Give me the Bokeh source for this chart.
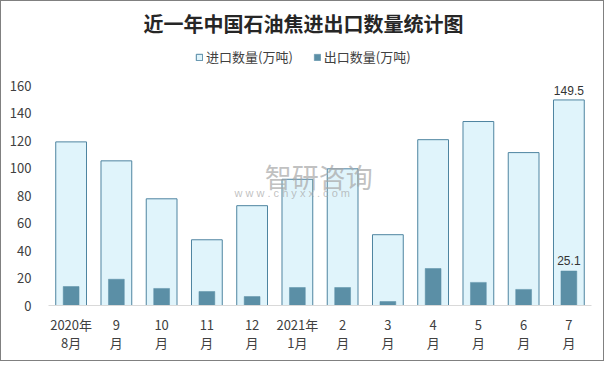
from bokeh.plotting import figure
from bokeh.models import FactorRange, Range1d, Legend, LegendItem, Label, FixedTicker
from bokeh.embed import file_html
from bokeh.resources import INLINE

categories = ["2020年\n8月", "9\n月", "10\n月", "11\n月", "12\n月", "2021年\n1月",
              "2\n月", "3\n月", "4\n月", "5\n月", "6\n月", "7\n月"]
imports = [119.0, 105.2, 77.6, 47.8, 72.6, 91.8, 99.4, 51.5, 120.6, 133.8, 111.2, 149.5]
exports = [13.8, 19.1, 12.4, 10.2, 6.5, 13.1, 13.1, 2.9, 26.9, 16.8, 11.7, 25.1]
y_ticks = [0, 20, 40, 60, 80, 100, 120, 140, 160]
title_text = "近一年中国石油焦进出口数量统计图"
import_name = "进口数量(万吨)"
export_name = "出口数量(万吨)"

FONT = "Noto Sans CJK SC"

# frame spans the full height above the x axis; title and legend live in its top part
# (160 units occupy 220 px, the frame is 304 px tall)
y_top = 160 * 304 / 220

p = figure(width=604, height=361, x_range=FactorRange(*categories, range_padding=0),
           y_range=Range1d(0, y_top), output_backend="svg", toolbar_location=None,
           min_border_left=47, min_border_right=14, min_border_top=0, min_border_bottom=57)

r_imp = p.vbar(x=categories, top=imports, width=0.68, fill_color="#e0f4fb",
               line_color="#4e84a0", line_width=1)
r_exp = p.vbar(x=categories, top=exports, width=0.35, fill_color="#5b8fa6",
               line_color="#5b8fa6", line_width=0.5)

# value labels on the last bars
p.text(x=[categories[-1]], y=[imports[-1]], text=[f"{imports[-1]:.1f}"],
       text_align="center", text_baseline="bottom", y_offset=-5,
       text_font_size="12px", text_color="#333333")
p.text(x=[categories[-1]], y=[exports[-1]], text=[f"{exports[-1]:.1f}"],
       text_align="center", text_baseline="bottom", y_offset=-6,
       text_font_size="12px", text_color="#333333")

# title
p.add_layout(Label(x=255, y=282, x_units="screen", y_units="screen", text=title_text,
                   text_font=FONT, text_font_size="20px", text_font_style="bold",
                   text_color="#262626", text_align="center", text_baseline="middle"))

# watermark
p.add_layout(Label(x=4.78, y=94, text="智研咨询", text_font_size="27px",
                   text_color="#a6a6a6", text_alpha=0.7, text_baseline="middle",
                   text_font=FONT))
p.add_layout(Label(x=4.11, y=81.5, text="w w w . c h y x x . c o m", text_font_size="11px",
                   text_color="#a6a6a6", text_alpha=0.7, text_baseline="middle"))

legend = Legend(items=[LegendItem(label=import_name, renderers=[r_imp]),
                       LegendItem(label=export_name, renderers=[r_exp])],
                orientation="horizontal", location=(147, 239),
                label_text_font=FONT, label_text_font_size="13px",
                label_text_color="#404040", glyph_width=8, glyph_height=8,
                spacing=20, label_standoff=3, border_line_color=None,
                background_fill_alpha=0, padding=2, margin=0,
                label_height=12)
p.add_layout(legend)

p.xgrid.grid_line_color = None
p.ygrid.grid_line_color = None
p.outline_line_color = None

p.yaxis.ticker = FixedTicker(ticks=y_ticks)
p.yaxis.axis_line_color = None
p.yaxis.major_tick_line_color = None
p.yaxis.minor_tick_line_color = None
p.yaxis.major_label_standoff = 11
p.yaxis.major_label_text_font_size = "13px"
p.yaxis.major_label_text_color = "#404040"
p.yaxis.major_label_text_font = FONT

p.xaxis.axis_line_color = "#d9d9d9"
p.xaxis.major_tick_line_color = None
p.xaxis.minor_tick_line_color = None
p.xaxis.major_label_standoff = 3
p.xaxis.major_label_text_font_size = "13px"
p.xaxis.major_label_text_color = "#404040"
p.xaxis.major_label_text_font = FONT
p.xaxis.major_label_text_line_height = 0.98

p.styles = {"border": "1px solid #808080"}

open("out.html", "w").write(file_html(p, INLINE))
